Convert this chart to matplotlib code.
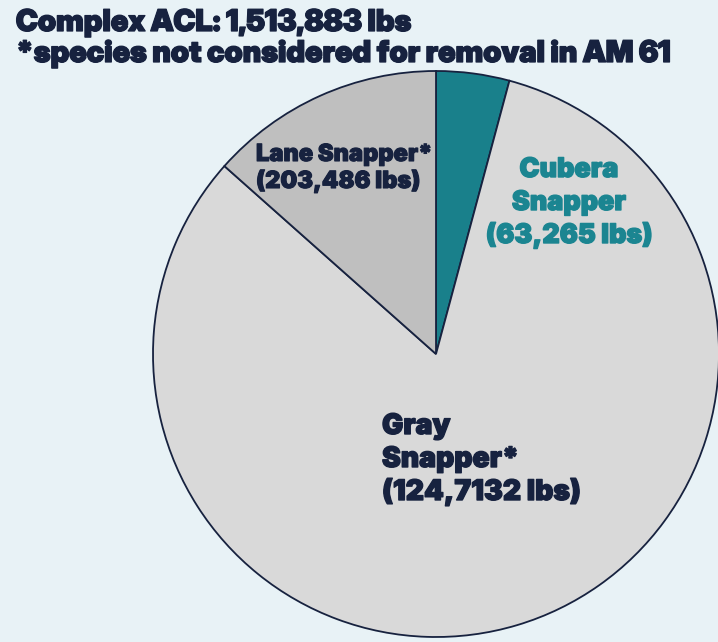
import matplotlib
matplotlib.use("Agg")
import matplotlib.pyplot as plt
import matplotlib.patheffects as pe

labels = ["Cubera Snapper", "Gray Snapper*", "Lane Snapper*"]
values = [63265, 1247132, 203486]
colors = ["#19808b", "#d9d9d9", "#bfbfbf"]
title_lines = ["Complex ACL: 1,513,883 lbs", "*species not considered for removal in AM 61"]
lane_lines = ["Lane Snapper*", "(203,486 lbs)"]
cubera_lines = ["Cubera", "Snapper", "(63,265 lbs)"]
gray_lines = ["Gray", "Snapper*", "(124,7132 lbs)"]

BG = "#e8f2f6"
NAVY = "#17223f"
TEAL = "#1b8591"

W, H = 718, 642
fig = plt.figure(figsize=(W / 100, H / 100), dpi=100, facecolor=BG)

cx, cy, r = 436, 354, 283
ax = fig.add_axes([(cx - r) / W, (H - cy - r) / H, 2 * r / W, 2 * r / H])
ax.set_facecolor(BG)
wedges, _ = ax.pie(values, colors=colors, startangle=90, counterclock=False,
                   radius=1, wedgeprops=dict(edgecolor=NAVY, linewidth=1.3))
for w in wedges:
    w.set_clip_on(False)
ax.set_xlim(-1, 1)
ax.set_ylim(-1, 1)
ax.set_aspect("auto")
ax.axis("off")

renderer = fig.canvas.get_renderer()


def fitted_size(text, family, target_px, guess=20):
    t = fig.text(0, 0, text, fontsize=guess, fontweight=900, family=family)
    wpx = t.get_window_extent(renderer).width
    t.remove()
    return guess * target_px / wpx


def put(x, y, s, size, family, color, stroke, ha="left"):
    fig.text(x / W, 1 - y / H, s, fontsize=size, fontweight=900, family=family,
             color=color, ha=ha, va="baseline",
             path_effects=[pe.withStroke(linewidth=stroke, foreground=color)])


# title
tfam = "Inter Display"
ts = fitted_size(title_lines[1], tfam, 655)
put(16, 31, title_lines[0], ts, tfam, NAVY, 0.9)
put(16, 62, title_lines[1], ts, tfam, NAVY, 0.9)

lfam = "Inter"
# lane
ls = fitted_size(lane_lines[0], lfam, 176)
put(256, 161, lane_lines[0], ls, lfam, NAVY, 0.8)
put(256, 188, lane_lines[1], ls, lfam, NAVY, 0.8)

# cubera
cs = fitted_size(cubera_lines[2], lfam, 167)
put(569, 177, cubera_lines[0], cs, lfam, TEAL, 1.0, ha="center")
put(569, 210, cubera_lines[1], cs, lfam, TEAL, 1.0, ha="center")
put(569, 243, cubera_lines[2], cs, lfam, TEAL, 1.0, ha="center")

# gray
gs = fitted_size(gray_lines[2], lfam, 199)
put(382, 434, gray_lines[0], gs, lfam, NAVY, 1.0)
put(382, 467, gray_lines[1], gs, lfam, NAVY, 1.0)
put(382, 500, gray_lines[2], gs, lfam, NAVY, 1.0)

fig.savefig("out.png", dpi=100, facecolor=BG)
